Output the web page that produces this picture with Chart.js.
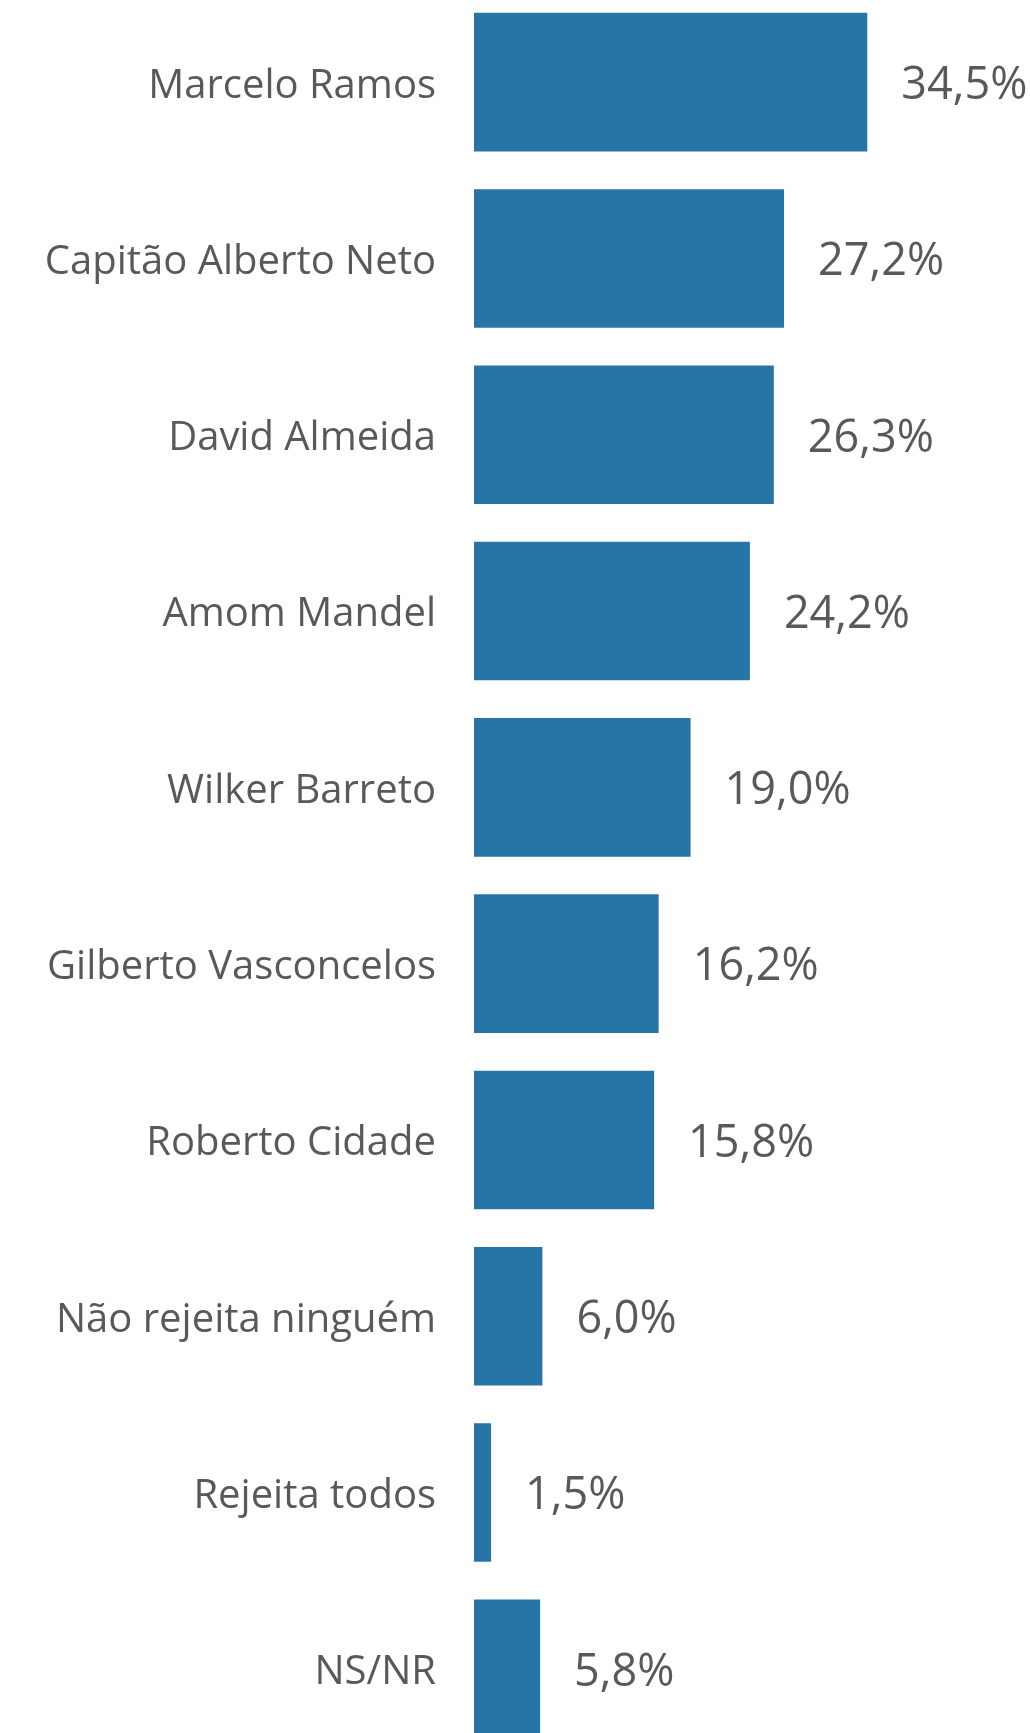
<!DOCTYPE html>
<html>
<head>
<meta charset="utf-8">
<script src="https://cdn.jsdelivr.net/npm/chart.js@4/dist/chart.umd.min.js"></script>
<style>
html,body{margin:0;padding:0;background:#fff;overflow:hidden;}
#wrap{position:absolute;left:0;top:-6px;width:1030px;height:1763px;}
</style>
</head>
<body>
<div id="wrap"><canvas id="c" width="1030" height="1763"></canvas></div>
<script>
const categories = ["Marcelo Ramos","Capitão Alberto Neto","David Almeida","Amom Mandel","Wilker Barreto","Gilberto Vasconcelos","Roberto Cidade","Não rejeita ninguém","Rejeita todos","NS/NR"];
const values = [34.5,27.2,26.3,24.2,19.0,16.2,15.8,6.0,1.5,5.8];

const FONT = "'Open Sans', 'Noto Sans', sans-serif";
const valueLabels = {
  id: 'valueLabels',
  afterDatasetsDraw(chart) {
    const ctx = chart.ctx;
    const meta = chart.getDatasetMeta(0);
    ctx.save();
    ctx.font = "45px " + FONT;
    ctx.fillStyle = "#595959";
    ctx.textAlign = "left";
    ctx.textBaseline = "middle";
    meta.data.forEach((bar, i) => {
      const txt = values[i].toFixed(1).replace('.', ',') + '%';
      ctx.fillText(txt, bar.x + 34, bar.y + 4);
    });
    ctx.restore();
  }
};

new Chart(document.getElementById('c'), {
  type: 'bar',
  data: {
    labels: categories,
    datasets: [{
      data: values,
      backgroundColor: '#2775A7',
      borderWidth: 0,
      barPercentage: 0.786,
      categoryPercentage: 1.0
    }]
  },
  options: {
    indexAxis: 'y',
    responsive: false,
    animation: false,
    devicePixelRatio: 1,
    layout: { padding: { left: 0, right: 100, top: 0, bottom: 0 } },
    plugins: { legend: { display: false }, tooltip: { enabled: false } },
    scales: {
      x: { display: false, min: 0, max: 40 },
      y: {
        afterFit(scale) { scale.width = 474; scale.paddingTop = 0; scale.paddingBottom = 0; },
        grid: { display: false, drawTicks: false },
        border: { display: false },
        ticks: { font: { family: FONT, size: 40 }, color: '#595959', padding: 38, labelOffset: 4 }
      }
    }
  },
  plugins: [valueLabels]
});
</script>
</body>
</html>
